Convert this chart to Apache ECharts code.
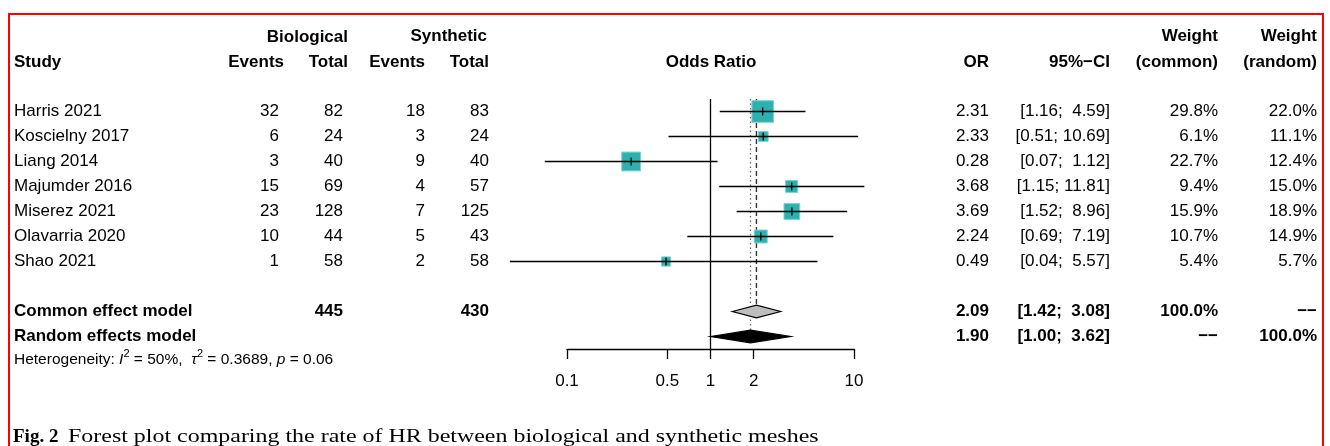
<!DOCTYPE html>
<html>
<head>
<meta charset="utf-8">
<script src="https://cdn.jsdelivr.net/npm/echarts@6/dist/echarts.min.js"></script>
<style>
html,body{margin:0;padding:0;background:#fff;}
#chart{width:1330px;height:446px;}
</style>
</head>
<body>
<div id="chart"></div>
<script>
// ---------- data ----------
const studies = ['Harris 2021','Koscielny 2017','Liang 2014','Majumder 2016','Miserez 2021','Olavarria 2020','Shao 2021'];
const bioEvents = [32, 6, 3, 15, 23, 10, 1];
const bioTotal = [82, 24, 40, 69, 128, 44, 58];
const synEvents = [18, 3, 9, 4, 7, 5, 2];
const synTotal = [83, 24, 40, 57, 125, 43, 58];
const orValues = [2.31, 2.33, 0.28, 3.68, 3.69, 2.24, 0.49];
const ciLower = [1.16, 0.51, 0.07, 1.15, 1.52, 0.69, 0.04];
const ciUpper = [4.59, 10.69, 1.12, 11.81, 8.96, 7.19, 5.57];
const weightCommon = [29.8, 6.1, 22.7, 9.4, 15.9, 10.7, 5.4];
const weightRandom = [22.0, 11.1, 12.4, 15.0, 18.9, 14.9, 5.7];
const commonModel = {label:'Common effect model', est:2.09, lo:1.42, hi:3.08, bioTotal:445, synTotal:430, wCommon:'100.0%', wRandom:'\u2212\u2212'};
const randomModel = {label:'Random effects model', est:1.90, lo:1.00, hi:3.62, wCommon:'\u2212\u2212', wRandom:'100.0%'};
const tickValues = [0.1, 0.5, 1, 2, 10];
const tickLabels = ['0.1', '0.5', '1', '2', '10'];
const caption = {bold:'Fig. 2', text:'Forest plot comparing the rate of HR between biological and synthetic meshes'};

// ---------- layout ----------
const GRID_TOP = 99, ROW_H = 25, GRID_H = 250;
const rowY = i => GRID_TOP + (i - 0.5) * ROW_H;
const FONT = '"Liberation Sans", Arial, Helvetica, sans-serif';
const SERIF = '"Liberation Serif", "Times New Roman", serif';
const FS = 17;
const fmt2 = v => v.toFixed(2);
const fmtCI = (lo, hi) => {
  const a = fmt2(lo), b = fmt2(hi);
  return '[' + a + ';' + (b.length < 5 ? '  ' : ' ') + b + ']';
};

const texts = [];
function txt(s, x, y, align, bold, size) {
  texts.push({
    type: 'text', silent: true,
    style: {
      text: String(s), x: x, y: y,
      textAlign: align || 'right', textVerticalAlign: 'middle',
      font: (bold ? 'bold ' : '') + (size || FS) + 'px ' + FONT,
      fill: '#000'
    }
  });
}
// headers
txt('Biological', 348, 37, 'right', true);
txt('Synthetic', 487, 36, 'right', true);
txt('Weight', 1218, 36, 'right', true);
txt('Weight', 1317, 36, 'right', true);
txt('Study', 14, 62, 'left', true);
txt('Events', 284, 62, 'right', true);
txt('Total', 348, 62, 'right', true);
txt('Events', 425, 62, 'right', true);
txt('Total', 489, 62, 'right', true);
txt('Odds Ratio', 711, 62, 'center', true);
txt('OR', 989, 62, 'right', true);
txt('95%\u2212CI', 1110, 62, 'right', true);
txt('(common)', 1218, 62, 'right', true);
txt('(random)', 1317, 62, 'right', true);
// study rows
studies.forEach((s, k) => {
  const y = rowY(k + 1);
  txt(s, 14, y, 'left');
  txt(bioEvents[k], 279, y);
  txt(bioTotal[k], 343, y);
  txt(synEvents[k], 425, y);
  txt(synTotal[k], 489, y);
  txt(fmt2(orValues[k]), 989, y);
  txt(fmtCI(ciLower[k], ciUpper[k]), 1110, y);
  txt(weightCommon[k].toFixed(1) + '%', 1218, y);
  txt(weightRandom[k].toFixed(1) + '%', 1317, y);
});
// model rows
[[commonModel, 9], [randomModel, 10]].forEach(([m, i]) => {
  const y = rowY(i);
  txt(m.label, 14, y, 'left', true);
  if (m.bioTotal) txt(m.bioTotal, 343, y, 'right', true);
  if (m.synTotal) txt(m.synTotal, 489, y, 'right', true);
  txt(fmt2(m.est), 989, y, 'right', true);
  txt(fmtCI(m.lo, m.hi), 1110, y, 'right', true);
  txt(m.wCommon, 1218, y, 'right', true);
  txt(m.wRandom, 1317, y, 'right', true);
});
// heterogeneity
const HS = 15.5;
texts.push({
  type: 'text', silent: true,
  style: {
    x: 14, y: 358, textAlign: 'left', textVerticalAlign: 'middle',
    text: '{n|Heterogeneity: }{i|I}{s|2}{n| = 50%,  }{i|\u03c4}{s|2}{n| = 0.3689, }{i|p}{n| = 0.06}',
    font: HS + 'px ' + FONT, fill: '#000',
    rich: {
      n: {fontFamily: FONT, fontSize: HS, lineHeight: 20, verticalAlign: 'bottom', fill: '#000'},
      i: {fontFamily: FONT, fontSize: HS, fontStyle: 'italic', lineHeight: 20, verticalAlign: 'bottom', fill: '#000'},
      s: {fontFamily: FONT, fontSize: 11, lineHeight: 11, verticalAlign: 'top', fill: '#000'}
    }
  }
});
// caption
texts.push({
  type: 'text', silent: true,
  style: {
    x: 13, y: 437, textAlign: 'left', textVerticalAlign: 'middle',
    text: caption.bold, font: 'bold 19px ' + SERIF, fill: '#000'
  }
});
texts.push({
  type: 'text', silent: true,
  x: 68, y: 437, scaleX: 1.26, scaleY: 1,
  style: {
    x: 0, y: 0, textAlign: 'left', textVerticalAlign: 'middle',
    text: caption.text, font: '19px ' + SERIF, fill: '#000'
  }
});
// frame
texts.push({
  type: 'rect', silent: true, z: 100,
  shape: {x: 9, y: 14, width: 1314, height: 500},
  style: {fill: 'none', stroke: '#ff0000', lineWidth: 2}
});

// ---------- series data ----------
const studyData = studies.map((s, k) => [orValues[k], ciLower[k], ciUpper[k], weightCommon[k], k + 1]);
const modelData = [
  [commonModel.est, commonModel.lo, commonModel.hi, 9, 0],
  [randomModel.est, randomModel.lo, randomModel.hi, 10, 1]
];

const chart = echarts.init(document.getElementById('chart'), null, {renderer: 'canvas'});
chart.setOption({
  backgroundColor: '#fff',
  animation: false,
  grid: {left: 567, width: 287, top: GRID_TOP, height: GRID_H, containLabel: false},
  xAxis: {
    type: 'log', logBase: 10, min: 0.1, max: 10,
    axisLine: {show: true, onZero: false, lineStyle: {color: '#000', width: 1.3}},
    axisTick: {show: true, inside: false, length: 10, customValues: tickValues, lineStyle: {color: '#000', width: 1.3}},
    minorTick: {show: false},
    axisLabel: {
      customValues: tickValues, margin: 24, color: '#000', fontSize: FS, fontFamily: FONT,
      formatter: v => {
        let best = 0;
        tickValues.forEach((t, k) => { if (Math.abs(Math.log(t) - Math.log(v)) < Math.abs(Math.log(tickValues[best]) - Math.log(v))) best = k; });
        return tickLabels[best];
      }
    },
    splitLine: {show: false}
  },
  yAxis: {type: 'value', inverse: true, min: 0.5, max: 10.5, show: false},
  series: [
    {
      type: 'line', data: [[1, 0.5], [1, 10.5]], symbol: 'none', silent: true,
      lineStyle: {color: '#000', width: 1.3}, z: 1
    },
    {
      type: 'line', data: [[commonModel.est, 0.5], [commonModel.est, 8.75]], symbol: 'none', silent: true,
      lineStyle: {color: '#333', width: 1.4, type: [5, 3]}, z: 1
    },
    {
      type: 'line', data: [[randomModel.est, 0.5], [randomModel.est, 9.75]], symbol: 'none', silent: true,
      lineStyle: {color: '#666', width: 1.3, type: [1.5, 3]}, z: 1
    },
    {
      type: 'custom', clip: false, z: 3,
      encode: {x: [0, 1, 2], y: 4},
      data: studyData,
      renderItem: (params, api) => {
        const y = api.value(4);
        const c = api.coord([api.value(0), y]);
        const lo = api.coord([api.value(1), y]);
        const hi = api.coord([api.value(2), y]);
        const s = 3.95 * Math.sqrt(api.value(3));
        return {
          type: 'group',
          children: [
            {type: 'rect', shape: {x: c[0] - s / 2, y: c[1] - s / 2, width: s, height: s},
             style: {fill: '#2db0b0', stroke: '#7fcfcf', lineWidth: 1}},
            {type: 'line', shape: {x1: lo[0], y1: lo[1], x2: hi[0], y2: hi[1]},
             style: {stroke: '#000', lineWidth: 1.3}},
            {type: 'line', shape: {x1: c[0], y1: c[1] - 4, x2: c[0], y2: c[1] + 4},
             style: {stroke: '#000', lineWidth: 1.3}}
          ]
        };
      }
    },
    {
      type: 'custom', clip: false, z: 4,
      encode: {x: [0, 1, 2], y: 3},
      data: modelData,
      renderItem: (params, api) => {
        const y = api.value(3);
        const c = api.coord([api.value(0), y]);
        const lo = api.coord([api.value(1), y]);
        const hi = api.coord([api.value(2), y]);
        const h = 6.3;
        const isRandom = api.value(4) === 1;
        return {
          type: 'polygon',
          shape: {points: [[lo[0], c[1]], [c[0], c[1] - h], [hi[0], c[1]], [c[0], c[1] + h]]},
          style: {fill: isRandom ? '#000' : '#bebebe', stroke: '#000', lineWidth: 1.2}
        };
      }
    }
  ],
  graphic: {elements: texts}
});
</script>
</body>
</html>
